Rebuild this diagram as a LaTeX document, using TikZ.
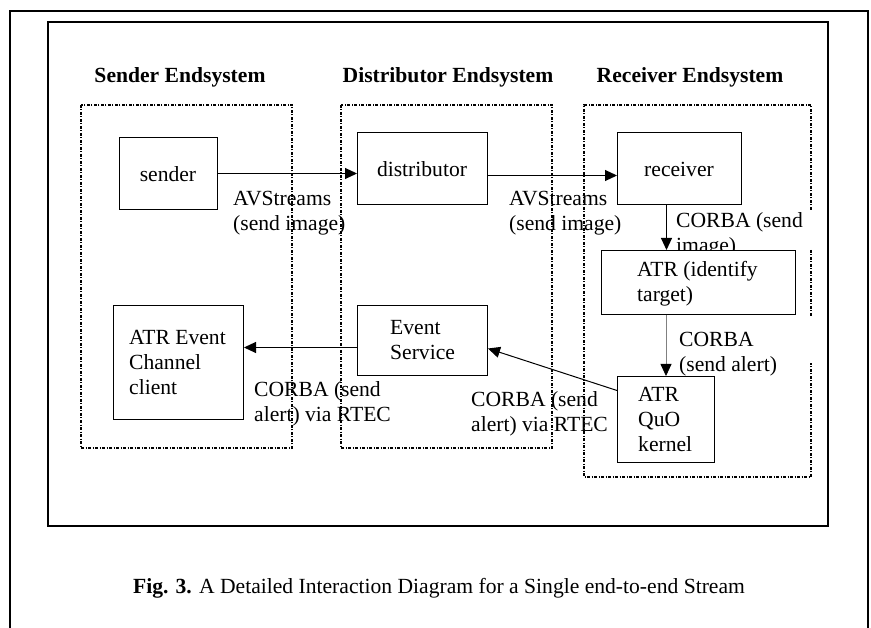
\documentclass[tikz,border=0pt]{standalone}
\usepackage{fontspec}
\setmainfont{Liberation Serif}
\usetikzlibrary{arrows.meta}
\begin{document}
\begin{tikzpicture}[x=1pt,y=-1pt,
  every node/.style={font=\fontsize{21.6}{25}\selectfont},
  box/.style={draw, line width=1pt, fill=white, inner sep=0, anchor=north west},
  txt/.style={inner sep=0, align=left, anchor=base west},
  ctxt/.style={inner sep=0, anchor=base},
  title/.style={inner sep=0, anchor=base, font=\fontsize{21.6}{25}\selectfont\bfseries},
  region/.style={draw, line width=1.3pt, dash pattern=on 3pt off 1.5pt on 1pt off 1.5pt},
  conn/.style={line width=1pt, -{Triangle[length=12pt,width=11pt]}},
]
\useasboundingbox (0,0) rectangle (871,628);
% frames
\draw[line width=2pt] (10,628) -- (10,11) -- (868,11) -- (868,628);
\draw[line width=1.5pt] (48,22) rectangle (828,526);
% endsystem regions
\draw[region] (81,105) rectangle (292,448);
\draw[region] (341,105) rectangle (552,448);
\draw[region] (811,210) -- (811,105) -- (584,105) -- (584,477) -- (811,477) -- (811,363);
\draw[region] (811,250) -- (811,317);
% titles
\node[title] (t1) at (180,83) {Sender Endsystem};
\node[title] (t2) at (448,83) {Distributor Endsystem};
\node[title] (t3) at (690,83) {Receiver Endsystem};
% connector labels (anchor = baseline of last line)
\node[txt] (l1) at (233,231) {AVStreams\\(send image)};
\node[txt] (l2) at (509,231) {AVStreams\\(send image)};
\node[txt] (l3) at (676,253) {CORBA (send\\image)};
\node[txt] (l4) at (679,372) {CORBA\\(send alert)};
\node[txt] (l5) at (254,422) {CORBA (send\\alert) via RTEC};
\node[txt] (l6) at (471,432) {CORBA (send\\alert) via RTEC};
% boxes
\node[box, minimum width=98, minimum height=72] (sender) at (119,137) {};
\node[box, minimum width=130, minimum height=72] (dist) at (357,132) {};
\node[box, minimum width=124, minimum height=72] (recv) at (617,132) {};
\node[box, minimum width=194, minimum height=64] (atr) at (601,250) {};
\node[box, minimum width=97, minimum height=86] (quo) at (617,376) {};
\node[box, minimum width=130, minimum height=70] (evt) at (357,305) {};
\node[box, minimum width=130, minimum height=114] (client) at (113,305) {};
% box texts
\node[ctxt] (tsender) at (168,182) {sender};
\node[ctxt] (tdist) at (422,177) {distributor};
\node[ctxt] (trecv) at (679,177) {receiver};
\node[txt] (tatr) at (637,302) {ATR (identify\\target)};
\node[txt] (tquo) at (638,452) {ATR\\QuO\\kernel};
\node[txt] (tevt) at (390,360) {Event\\Service};
\node[txt] (tclient) at (129,395) {ATR Event\\Channel\\client};
% connectors
\draw[conn] (sender.east) -- (sender.east -| dist.west);
\draw[conn] ([yshift=-7pt]dist.east) -- ([yshift=-7pt]dist.east -| recv.west);
\draw[conn] ([xshift=-13pt]recv.south) -- ([xshift=-13pt]recv.south |- atr.north);
\draw[line width=0.8pt, draw=gray, -{Triangle[length=12pt,width=11pt,color=black]}] (quo.north |- atr.south) -- (quo.north);
\draw[conn] ([yshift=29pt]quo.west) -- ([yshift=-8pt]evt.east);
\draw[conn] ([yshift=-7pt]evt.west) -- ([yshift=-7pt]evt.west -| client.east);
% caption
\node[ctxt] (cap) at (439,593) {\textbf{Fig. 3.} A Detailed Interaction Diagram for a Single end-to-end Stream};
\end{tikzpicture}
\end{document}
